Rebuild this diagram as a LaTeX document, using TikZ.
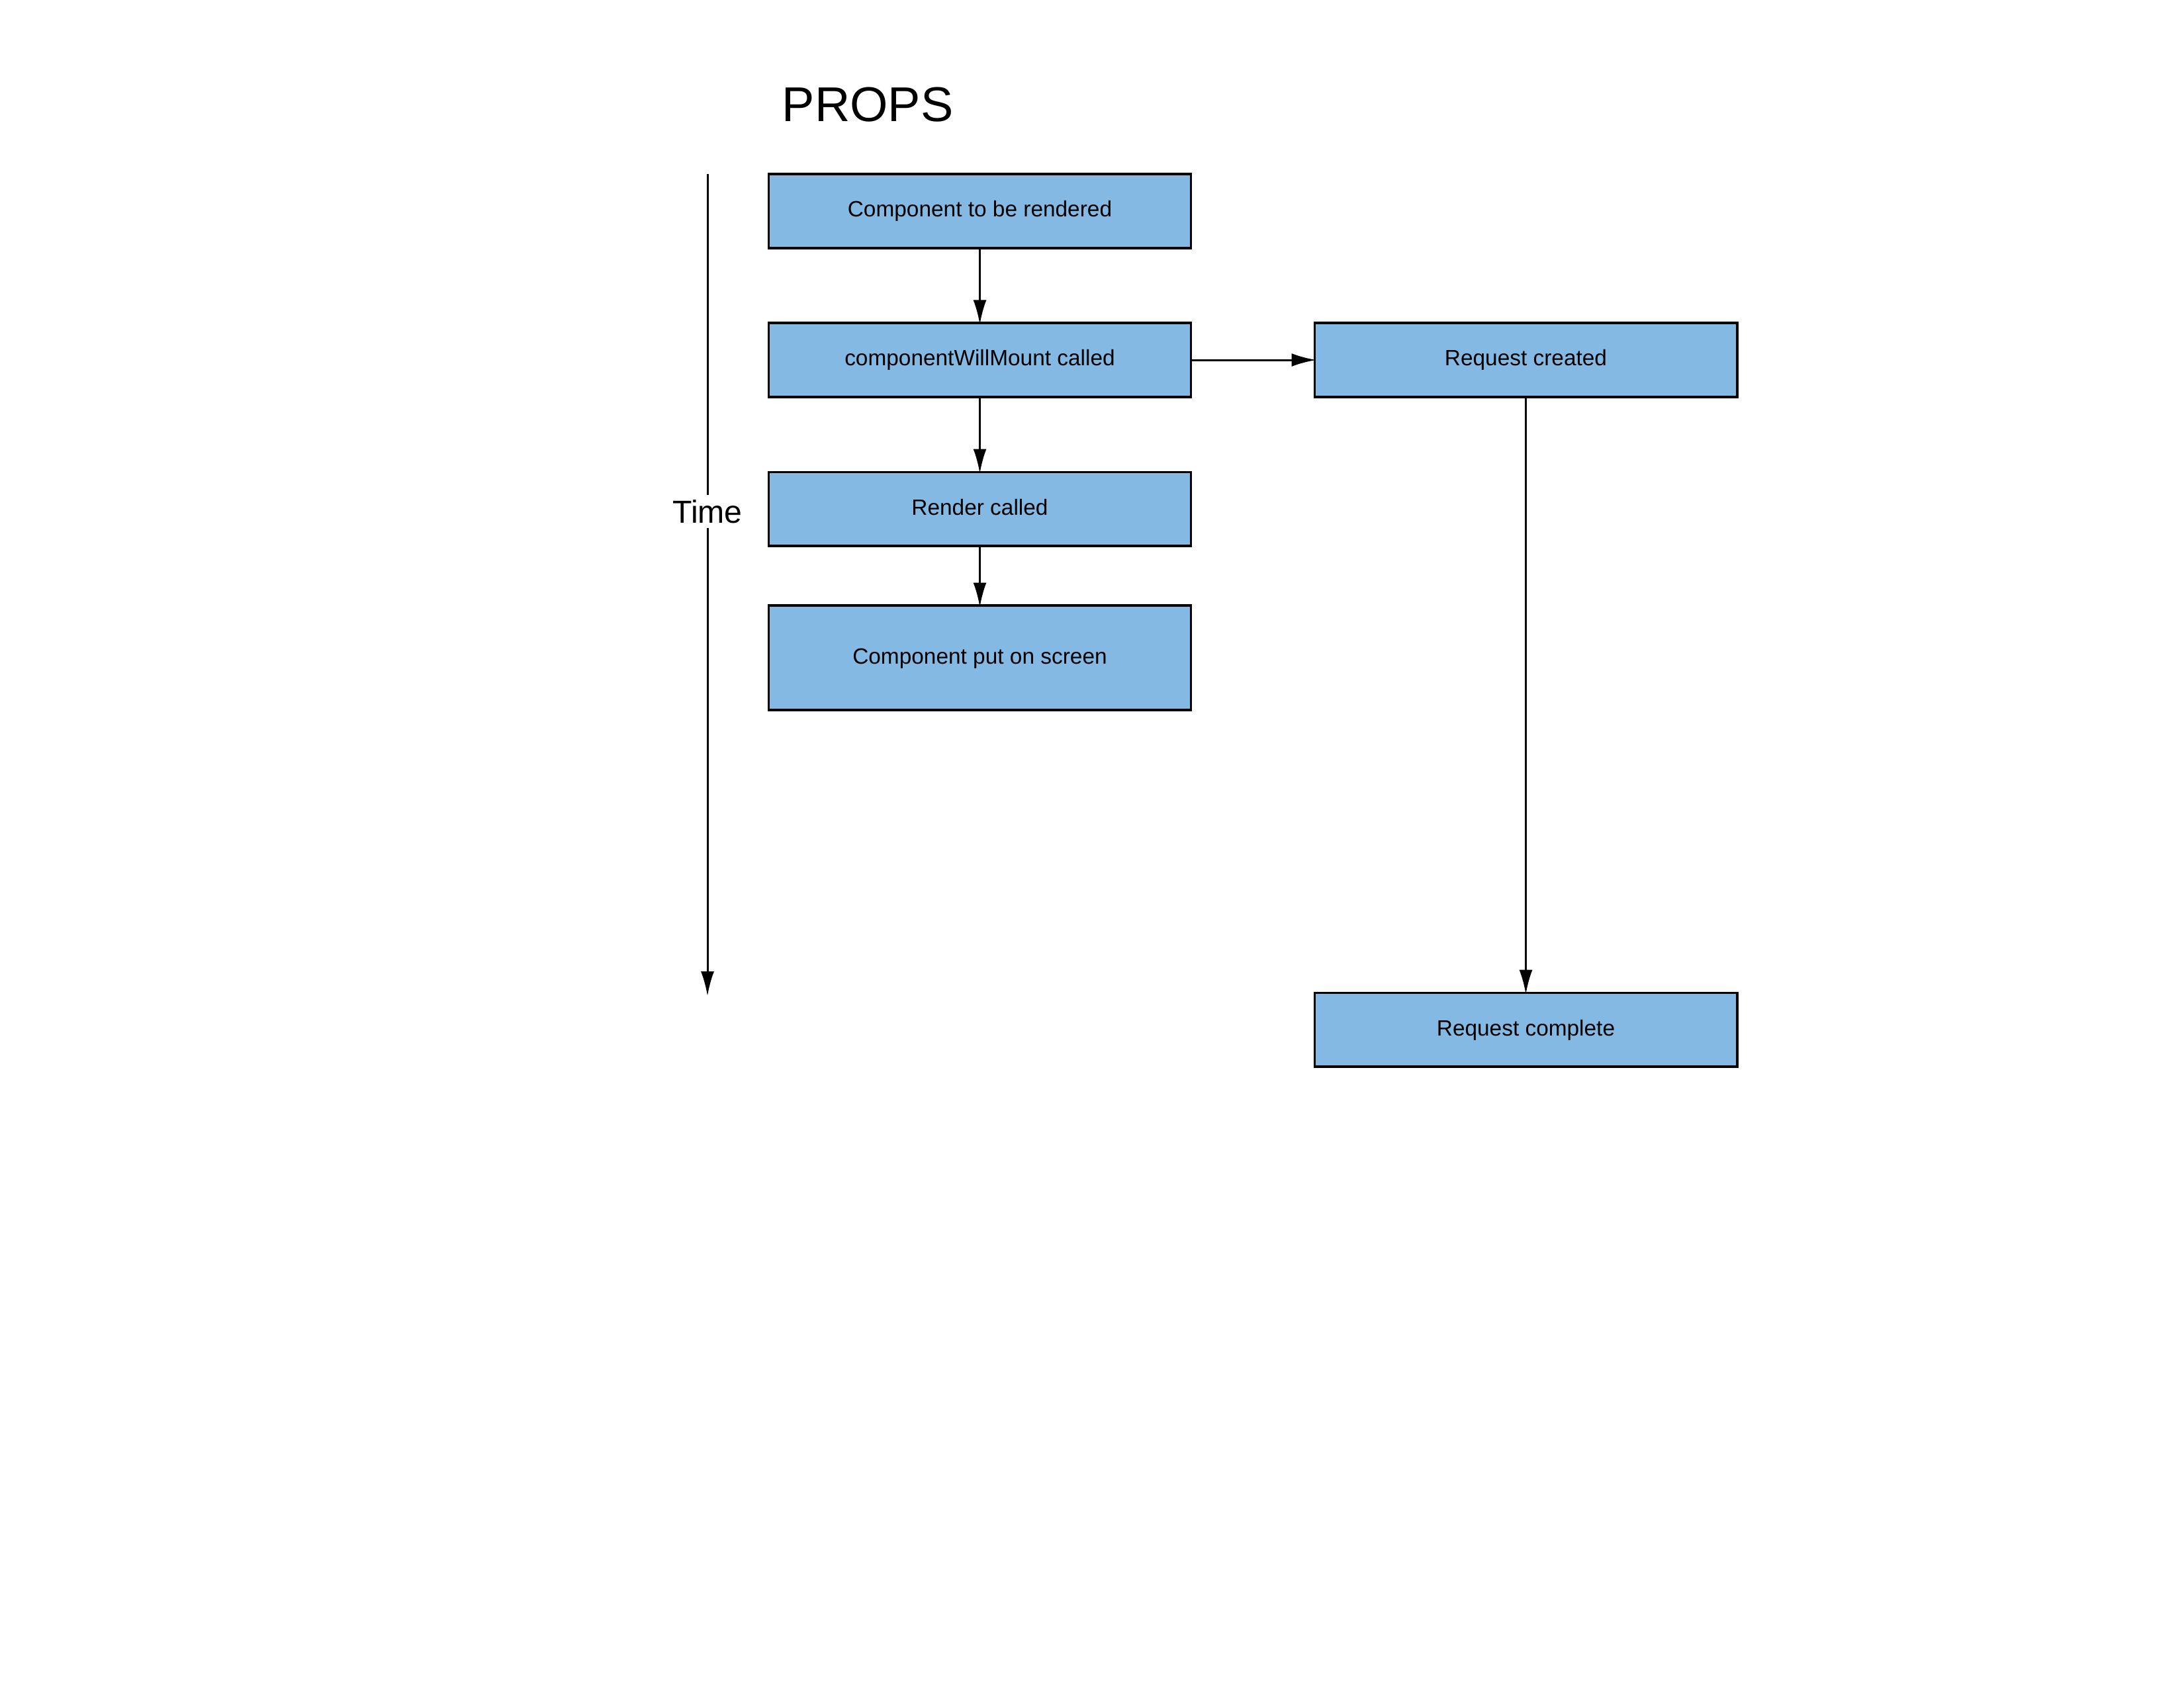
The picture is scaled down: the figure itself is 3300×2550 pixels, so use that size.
\documentclass[tikz,border=0pt]{standalone}
\usepackage{fontspec}
\setmainfont{Liberation Sans}
\usetikzlibrary{arrows.meta}
\definecolor{boxblue}{RGB}{132,185,227}
\begin{document}
\begin{tikzpicture}[x=0.01cm,y=-0.01cm,
  stepbox/.style={draw=black,fill=boxblue,line width=1.1pt,minimum width=6.377cm,
    minimum height=1.115cm,inner sep=0pt,outer sep=0pt,
    text height=0.72em,text depth=0.21em,font=\fontsize{9.5}{11}\selectfont},
  flow/.style={line width=0.85pt,shorten >=-0.6pt,-{Latex[length=0.37cm,width=0.2cm]}}]
\useasboundingbox (0,0) rectangle (3300,2550);

\node[font=\fontsize{21}{25}\selectfont] (title) at (1311,158) {PROPS};

% boxes
\node[stepbox] (b1) at (1480.5,318.8) {Component to be rendered};
\node[stepbox] (b2) at (1480.5,544) {componentWillMount called};
\node[stepbox] (b3) at (1480.5,769.2) {Render called};
\node[stepbox,minimum height=1.579cm] (b4) at (1480.5,994.4) {Component put on screen};
\node[stepbox] (b5) at (2305.5,544) {Request created};
\node[stepbox] (b6) at (2305.5,1556.3) {Request complete};

% time axis
\coordinate (t0) at (1069,263);
\coordinate (t1) at (1069,1503);
\draw[flow] (t0) -- (t1);
\node[fill=white,inner sep=2pt,font=\fontsize{13.7}{16}\selectfont] (time) at (1069,773) {Time};

% connectors
\draw[flow] (b1) -- (b2);
\draw[flow] (b2) -- (b3);
\draw[flow] (b3) -- (b4);
\draw[flow] (b2) -- (b5);
\draw[flow] (b5) -- (b6);
\end{tikzpicture}
\end{document}
